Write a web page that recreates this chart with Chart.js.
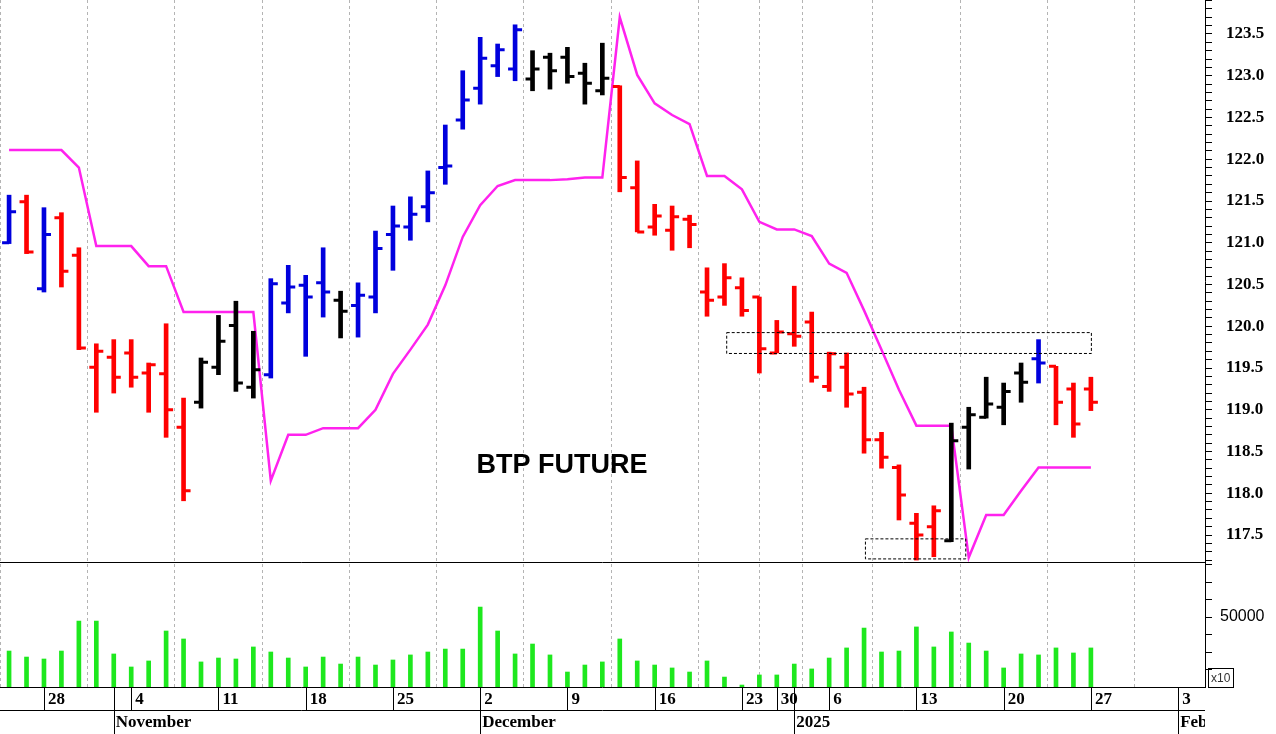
<!DOCTYPE html>
<html lang="en">
<head>
<meta charset="UTF-8">
<title>BTP Future</title>
<script src="https://cdn.jsdelivr.net/npm/chart.js"></script>
<style>
    html, body { margin: 0; padding: 0; background: #fff; }
    #wrap { width: 1276px; height: 734px; }
</style>
</head>
<body>
<div id="wrap"><canvas id="btpChart"></canvas></div>
<script>
// trading days, Oct 24 2024 - Jan 27 2025
const dates = ['10-24','10-25','10-28','10-29','10-30','10-31','11-01','11-04','11-05','11-06','11-07','11-08',
    '11-11','11-12','11-13','11-14','11-15','11-18','11-19','11-20','11-21','11-22','11-25','11-26','11-27','11-28','11-29',
    '12-02','12-03','12-04','12-05','12-06','12-09','12-10','12-11','12-12','12-13','12-16','12-17','12-18','12-19','12-20',
    '12-23','12-27','12-30','01-02','01-03','01-06','01-07','01-08','01-09','01-10','01-13','01-14','01-15','01-16','01-17',
    '01-20','01-21','01-22','01-23','01-24','01-27'];

const opens  = [121.00,121.49,120.45,121.30,120.85,119.51,119.63,119.68,119.44,119.43,118.79,119.09,119.51,120.01,119.27,119.42,120.28,120.49,120.52,120.31,120.25,120.35,121.10,121.19,121.43,121.90,122.47,122.85,123.12,123.08,122.96,123.22,123.22,123.03,122.82,122.87,121.66,121.19,121.15,121.28,120.41,120.35,120.46,120.35,119.68,119.91,120.05,119.28,119.51,119.21,118.64,118.31,117.64,117.60,117.43,118.79,118.91,119.03,119.44,119.61,119.52,119.25,119.25];
const highs  = [121.57,121.57,121.42,121.36,120.94,119.79,119.84,119.84,119.56,120.03,119.14,119.62,120.13,120.30,119.94,120.57,120.73,120.61,120.94,120.42,120.52,121.14,121.44,121.55,121.86,122.41,123.06,123.46,123.38,123.61,123.30,123.27,123.34,123.15,123.39,122.88,121.98,121.46,121.44,121.33,120.70,120.75,120.58,120.35,120.07,120.48,120.17,119.69,119.68,119.27,118.73,118.34,117.76,117.85,118.84,119.03,119.39,119.32,119.56,119.84,119.52,119.32,119.39];
const lows   = [120.99,120.87,120.41,120.47,119.72,118.97,119.20,119.27,118.97,118.67,117.91,119.02,119.42,119.22,119.14,119.38,120.16,119.64,120.11,119.86,119.87,120.16,120.67,121.03,121.25,121.70,122.36,122.66,122.99,122.94,122.82,122.84,122.91,122.66,122.77,121.61,121.13,121.09,120.91,120.94,120.12,120.25,120.12,119.44,119.68,119.76,119.33,119.22,119.03,118.48,118.30,117.68,117.20,117.24,117.42,118.29,118.90,118.82,119.09,119.32,118.82,118.67,118.99];
const closes = [121.37,120.89,121.10,120.66,119.74,119.70,119.39,119.39,119.54,119.00,118.03,119.57,119.82,119.32,119.48,120.51,120.47,120.35,120.41,120.18,120.37,120.93,121.20,121.34,121.60,121.92,122.71,123.21,123.31,123.55,123.08,123.06,122.99,122.91,122.97,121.78,121.13,121.32,121.31,121.22,120.31,120.58,120.19,119.73,119.93,119.88,119.39,119.67,119.19,118.64,118.43,117.98,117.50,117.79,118.63,118.94,119.07,119.22,119.33,119.56,119.09,118.83,119.09];
// B = blue, R = red, K = black
const barColors = 'BRBRRRRRRRRKKKKBBBBKBBBBBBBBBBKKKKKRRRRRRRRRRRRRRRRRRRKKKKKBRRR';
const stopLine = [122.11,122.11,122.11,122.11,121.90,120.96,120.96,120.96,120.72,120.72,120.17,120.17,120.17,120.17,120.17,118.15,118.70,118.70,118.78,118.78,118.78,119.00,119.43,119.72,120.02,120.49,121.07,121.45,121.68,121.75,121.75,121.75,121.76,121.78,121.78,123.70,123.01,122.67,122.53,122.42,121.80,121.80,121.64,121.25,121.16,121.16,121.08,120.75,120.64,120.19,119.72,119.24,118.81,118.81,118.81,117.23,117.74,117.74,118.03,118.31,118.31,118.31,118.31];
const volumes = [25700,21400,20000,25700,47100,47100,23600,14300,18600,40000,34300,17900,20700,20000,28600,25000,20700,14300,21400,16400,21400,15700,19300,22900,25000,27100,27100,57100,40000,23600,30700,22900,10700,15700,17900,34300,18600,15700,13600,10700,18600,7100,1400,8600,8600,16400,12900,20700,27900,42100,25000,25700,42900,28600,39300,31400,25700,13600,23600,22900,27900,24300,27900];

// x-axis labels (Mondays) and month starts, as trading-day index
const tickIdx = [2,7,12,17,22,27,32,37,42,44,47,52,57,62,67];
const tickLbl = ['28','4','11','18','25','2','9','16','23','30','6','13','20','27','3'];
const monthIdx = [6,27,45,67];
const monthLbl = ['November','December','2025','Feb'];

// dashed boxes: [fromIdx, toIdx, low, high]
const boxes = [[41.1,62,119.68,119.93],[49.05,54.8,117.22,117.46]];

const colorMap = { B: '#0000dd', R: '#ff0000', K: '#000000' };
const cols = barColors.split('').map(c => colorMap[c]);

const ohlcTicks = {
    id: 'ohlcTicks',
    afterDatasetsDraw(chart) {
        const { ctx, scales: { x, y } } = chart;
        ctx.save();
        ctx.lineWidth = 3;
        for (let i = 0; i < opens.length; i++) {
            const px = x.getPixelForValue(i);
            ctx.strokeStyle = cols[i];
            ctx.beginPath();
            ctx.moveTo(px - 7, y.getPixelForValue(opens[i]));
            ctx.lineTo(px, y.getPixelForValue(opens[i]));
            ctx.moveTo(px, y.getPixelForValue(closes[i]));
            ctx.lineTo(px + 7, y.getPixelForValue(closes[i]));
            ctx.stroke();
        }
        // dashed boxes
        ctx.lineWidth = 1;
        ctx.strokeStyle = '#000';
        ctx.setLineDash([3, 2]);
        boxes.forEach(b => {
            const x1 = x.getPixelForValue(b[0]), x2 = x.getPixelForValue(b[1]);
            const y1 = y.getPixelForValue(b[3]), y2 = y.getPixelForValue(b[2]);
            ctx.strokeRect(x1 + 0.5, y1 + 0.5, x2 - x1, y2 - y1);
        });
        ctx.setLineDash([]);
        // title
        ctx.fillStyle = '#000';
        ctx.font = 'bold 27px "Liberation Sans", Arial';
        ctx.textAlign = 'center';
        ctx.textBaseline = 'middle';
        ctx.fillText('BTP FUTURE', 562, 466);
        ctx.restore();
    }
};

const frame = {
    id: 'frame',
    afterDraw(chart) {
        const { ctx, chartArea: a, scales: { x, yv } } = chart;
        ctx.save();
        ctx.strokeStyle = '#000';
        ctx.lineWidth = 1;
        const sep = Math.round(yv.top) + 0.5;
        const bot = Math.round(a.bottom) + 0.5;
        const mid = bot + 23;
        const end = chart.height;
        ctx.beginPath();
        ctx.moveTo(a.left, sep); ctx.lineTo(a.right, sep);
        ctx.moveTo(a.left, bot); ctx.lineTo(a.right, bot);
        ctx.moveTo(a.left, mid); ctx.lineTo(a.right, mid);
        tickIdx.forEach(t => {
            const px = Math.round(x.getPixelForValue(t)) + 0.5;
            ctx.moveTo(px, bot); ctx.lineTo(px, mid);
        });
        monthIdx.forEach(t => {
            const px = Math.round(x.getPixelForValue(t)) + 0.5;
            ctx.moveTo(px, bot); ctx.lineTo(px, end);
        });
        ctx.stroke();
        ctx.beginPath();
        ctx.rect(a.left, bot, a.right - a.left, end - bot);
        ctx.clip();
        ctx.fillStyle = '#000';
        ctx.font = 'bold 17px "Liberation Serif", "Times New Roman"';
        ctx.textBaseline = 'middle';
        tickIdx.forEach((t, i) => ctx.fillText(tickLbl[i], x.getPixelForValue(t) + 4, bot + 12));
        monthIdx.forEach((t, i) => ctx.fillText(monthLbl[i], x.getPixelForValue(t) + 2, mid + 12));
        ctx.restore();
        // x10 box
        ctx.save();
        ctx.strokeStyle = '#000';
        ctx.strokeRect(a.right + 3.5, bot - 19, 25, 19);
        ctx.fillStyle = '#333';
        ctx.font = '12px "Liberation Sans", Arial';
        ctx.textBaseline = 'middle';
        ctx.fillText('x10', a.right + 6, bot - 9);
        ctx.restore();
    }
};

const noPad = s => { s.paddingTop = 0; s.paddingBottom = 0; s.paddingLeft = 0; s.paddingRight = 0; };

const idx = opens.map((_, i) => i);

new Chart(document.getElementById('btpChart'), {
    data: {
        datasets: [
            {
                type: 'bar',
                yAxisID: 'y',
                data: idx.map(i => ({ x: i, y: [lows[i], highs[i]] })),
                backgroundColor: cols,
                barThickness: 4,
                grouped: false
            },
            {
                type: 'line',
                yAxisID: 'y',
                data: idx.map(i => ({ x: i, y: stopLine[i] })),
                borderColor: '#ff22ee',
                borderWidth: 2.5,
                pointRadius: 0,
                tension: 0
            },
            {
                type: 'bar',
                yAxisID: 'yv',
                data: idx.map(i => ({ x: i, y: volumes[i] })),
                backgroundColor: '#1ee81e',
                barThickness: 4,
                grouped: false
            }
        ]
    },
    options: {
        responsive: true,
        maintainAspectRatio: false,
        animation: false,
        layout: { padding: 0 },
        plugins: { legend: { display: false }, tooltip: { enabled: false } },
        scales: {
            x: {
                type: 'linear',
                min: -0.52,
                max: 68.54,
                offset: false,
                afterBuildTicks: s => { s.ticks = tickIdx.map(v => ({ value: v })); },
                afterFit: s => { s.height = 47; noPad(s); },
                ticks: { display: false },
                border: { display: false, dash: [3, 3] },
                grid: { color: '#b4b4b4', tickLength: 0, drawTicks: false }
            },
            y: {
                type: 'linear',
                position: 'right',
                stack: 'panels',
                stackWeight: 562,
                weight: 1,
                min: 117.177,
                max: 123.907,
                afterBuildTicks: s => {
                    const t = [];
                    for (let v = 1172; v <= 1239; v++) t.push({ value: v / 10 });
                    s.ticks = t;
                },
                afterFit: s => { s.width = 71; noPad(s); },
                border: { color: '#000', width: 1 },
                grid: { drawOnChartArea: false, color: '#000', tickLength: 7 },
                ticks: {
                    autoSkip: false,
                    padding: 14,
                    color: '#000',
                    font: { family: '"Liberation Serif", "Times New Roman"', size: 17, weight: 'bold' },
                    callback: v => (Math.round(v * 10) % 5 === 0 ? v.toFixed(1) : '')
                }
            },
            yv: {
                type: 'linear',
                position: 'right',
                stack: 'panels',
                stackWeight: 125,
                weight: 2,
                min: 0,
                max: 89286,
                afterBuildTicks: s => {
                    const t = [];
                    for (let v = 12500; v <= 87500; v += 12500) t.push({ value: v });
                    s.ticks = t;
                },
                afterFit: s => { s.width = 71; noPad(s); },
                border: { color: '#000', width: 1 },
                grid: { drawOnChartArea: false, color: '#000', tickLength: 7 },
                ticks: {
                    autoSkip: false,
                    padding: 8,
                    color: '#000',
                    font: { family: '"Liberation Sans", Arial', size: 16 },
                    callback: v => (v === 50000 ? '50000' : '')
                }
            }
        }
    },
    plugins: [ohlcTicks, frame]
});
</script>
</body>
</html>
